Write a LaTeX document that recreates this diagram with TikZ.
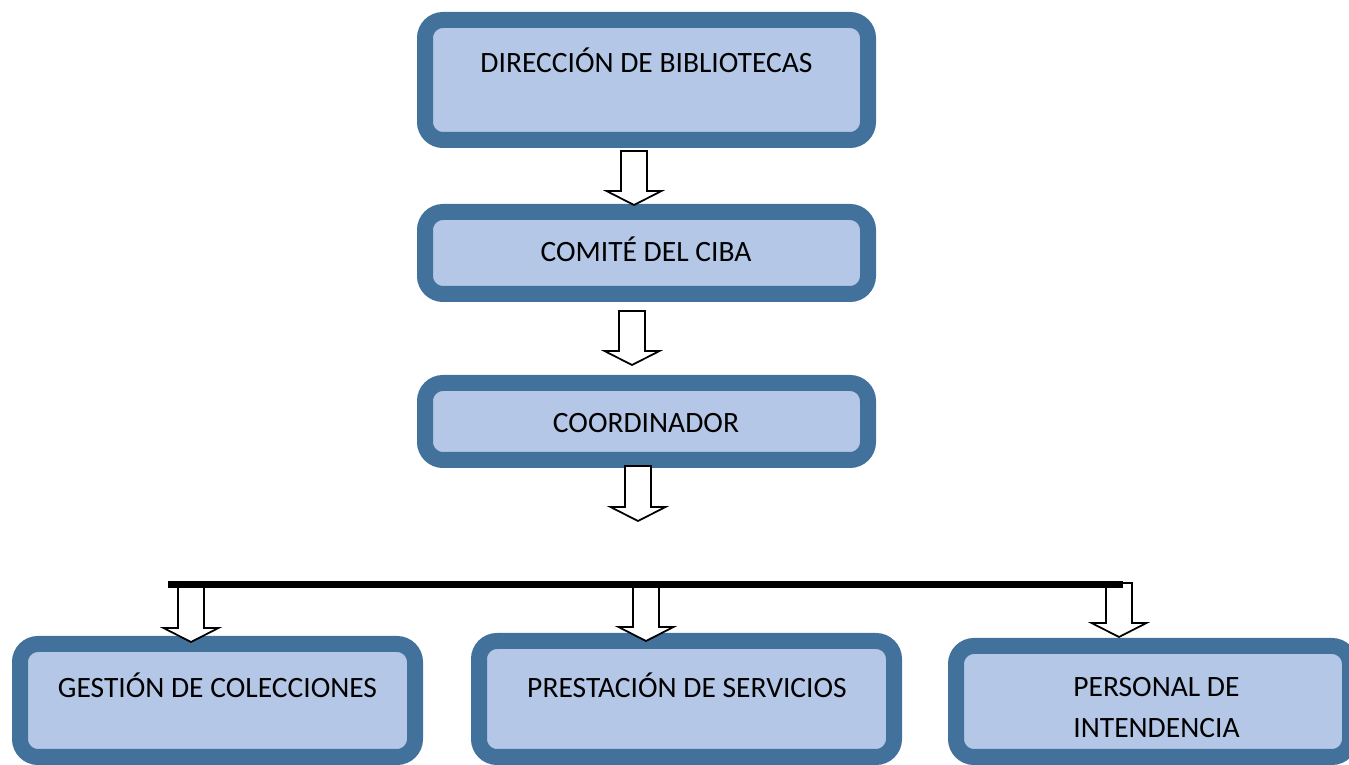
\documentclass[tikz,border=0pt]{standalone}
\usepackage{fontspec}
\setmainfont{Carlito}
\usepackage{xcolor}
\usepackage{tikz}
\definecolor{boxborder}{RGB}{66,113,156}
\definecolor{boxfill}{RGB}{180,199,231}
\tikzset{
  orgbox/.style={draw=boxborder, fill=boxfill, line width=0.32cm, rounded corners=0.36cm, inner sep=0pt},
  boxtext/.style={anchor=base, inner sep=0pt, font=\fontsize{16.8}{20}\selectfont},
  pics/blockarr/.style={code={
    \draw[black, line width=1pt, fill=white] (-0.26,0) -- (-0.26,-#1+0.28) -- (-0.55,-#1+0.28) -- (0,-#1) -- (0.55,-#1+0.28) -- (0.26,-#1+0.28) -- (0.26,0) -- cycle;
  }}
}
\begin{document}
\begin{tikzpicture}
\useasboundingbox (0,0) rectangle (26.98,15.3);
\clip (0,0) rectangle (26.98,15.3);
% boxes
\node[orgbox, minimum width=8.86cm, minimum height=2.4cm] (Dir) at (12.93,13.7) {};
\node[orgbox, minimum width=8.86cm, minimum height=1.64cm] (Comite) at (12.93,10.24) {};
\node[orgbox, minimum width=8.86cm, minimum height=1.54cm] (Coord) at (12.93,6.87) {};
\node[orgbox, minimum width=7.9cm, minimum height=2.26cm] (Gestion) at (4.35,1.29) {};
\node[orgbox, minimum width=8.3cm, minimum height=2.32cm] (Prest) at (13.73,1.32) {};
\node[orgbox, minimum width=7.88cm, minimum height=2.22cm] (Personal) at (23.06,1.27) {};
% texts
\node[boxtext] (DirLabel) at (12.93,13.84) {DIRECCIÓN DE BIBLIOTECAS};
\node[boxtext] (ComiteLabel) at (12.92,10.07) {COMITÉ DEL CIBA};
\node[boxtext] (CoordLabel) at (12.92,6.65) {COORDINADOR};
\node[boxtext] (GestionLabel) at (4.35,1.34) {GESTIÓN DE COLECCIONES};
\node[boxtext] (PrestLabel) at (13.74,1.35) {PRESTACIÓN DE SERVICIOS};
\node[boxtext, anchor=base west] (PersonalLabel) at (21.46,1.36) {PERSONAL DE};
\node[boxtext, anchor=base west] (PersonalLabelB) at (21.46,0.54) {INTENDENCIA};
% arrows
\pic at (12.68,12.28) {blockarr=1.08};
\pic at (12.64,9.08) {blockarr=1.08};
\pic at (12.76,5.98) {blockarr=1.1};
\foreach \x/\l in {3.82/1.18, 12.92/1.16, 22.38/1.08}\pic at (\x,3.64) {blockarr=\l};
% bar
\coordinate (BarL) at (3.36,3.61);
\coordinate (BarR) at (22.46,3.61);
\draw[black, line width=0.14cm] (BarL) -- (BarR);
\end{tikzpicture}
\end{document}
